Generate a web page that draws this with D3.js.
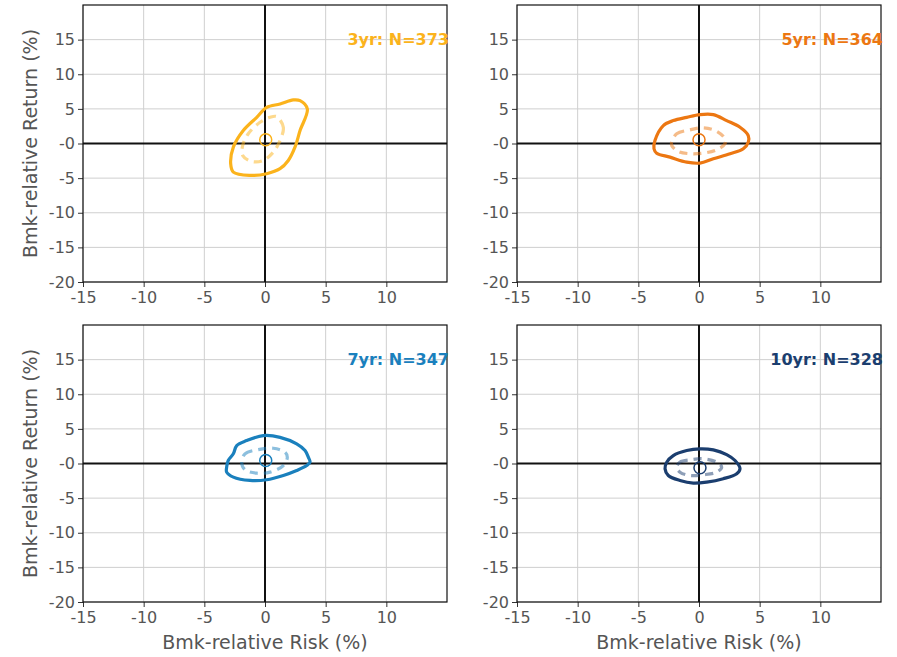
<!DOCTYPE html>
<html>
<head>
<meta charset="utf-8">
<script src="https://cdn.jsdelivr.net/npm/d3@7"></script>
<style>
  body { margin: 0; background: #fff; }
  svg { display: block; font-family: "DejaVu Sans", sans-serif; }
</style>
</head>
<body>
<svg id="chart" width="897" height="657"></svg>
<script>
// Holding periods shown, one panel each
const periods = ["3yr", "5yr", "7yr", "10yr"];
const counts = [373, 364, 347, 328];
const colors = ["#fbb31c", "#ec7712", "#1a80bd", "#1b3e6f"];

// Axis ticks and their labels
const xTicks = [-15, -10, -5, 0, 5, 10];
const xTickLabels = ["-15", "-10", "-5", "0", "5", "10"];
const yTicks = [-20, -15, -10, -5, 0, 5, 10, 15];
const yTickLabels = ["-20", "-15", "-10", "-5", "-0", "5", "10", "15"];

// Median point of each period (risk, return)
const centers = [[0.06, 0.53], [0.0, 0.53], [0.06, 0.43], [0.08, -0.62]];

// Outer density contour (solid), [risk, return]
const outer3 = [[2.89, 6.19], [3.49, 4.99], [2.89, 1.87], [2.47, -0.53], [1.92, -2.45], [1.24, -3.64], [0.14, -4.36], [-1.24, -4.60], [-2.61, -4.13], [-2.83, -2.92], [-2.61, -0.53], [-1.79, 1.87], [-0.68, 3.78], [0.14, 5.22], [1.24, 5.71], [2.33, 6.29]];
const outer5 = [[-3.63, 0.43], [-2.94, 2.59], [-2.12, 3.31], [-1.01, 3.78], [0.08, 4.17], [1.18, 4.17], [2.28, 3.31], [3.38, 2.35], [4.06, 1.15], [4.06, 0.19], [3.65, -0.76], [2.56, -1.48], [1.18, -2.20], [0.08, -2.83], [-1.01, -2.69], [-2.39, -1.97], [-3.49, -1.40], [-3.71, -0.76]];
const outer7 = [[-3.16, -0.53], [-3.03, 0.43], [-2.61, 1.40], [-2.33, 2.59], [-1.51, 3.31], [-0.14, 4.03], [1.24, 3.78], [2.61, 2.83], [3.30, 1.87], [3.57, 0.91], [3.71, 0.19], [3.44, -0.29], [2.61, -1.01], [1.51, -1.73], [0.14, -2.35], [-1.24, -2.45], [-2.61, -1.97], [-3.16, -1.25]];
const outer10 = [[-2.80, -0.76], [-2.66, 0.19], [-2.12, 1.15], [-1.01, 1.87], [0.08, 2.12], [1.18, 1.97], [2.28, 1.29], [2.97, 0.43], [3.38, -0.76], [3.11, -1.48], [2.0, -2.20], [0.63, -2.69], [-0.47, -2.83], [-1.57, -2.45], [-2.53, -1.73]];

// Inner density contour (dashed)
const inner3 = [[0.96, 3.88], [1.51, 2.35], [1.24, 0.43], [0.68, -1.25], [-0.14, -2.45], [-1.10, -2.59], [-1.84, -1.73], [-1.84, -0.29], [-1.38, 1.40], [-0.41, 3.06], [0.41, 3.78]];
const inner5 = [[-2.25, 0.19], [-1.84, 1.40], [-0.74, 1.97], [0.35, 2.26], [1.46, 1.77], [2.14, 0.68], [2.14, -0.04], [1.46, -0.91], [0.35, -1.40], [-0.74, -1.48], [-1.71, -1.15], [-2.25, -0.29]];
const inner7 = [[-1.92, 0.19], [-1.65, 1.40], [-0.55, 2.01], [0.68, 2.20], [1.65, 1.63], [1.84, 0.91], [1.51, -0.29], [0.41, -1.25], [-0.68, -1.40], [-1.65, -0.91]];
const inner10 = [[-1.84, -0.53], [-1.57, 0.19], [-0.74, 0.53], [0.35, 0.68], [1.46, 0.19], [1.87, -0.53], [1.46, -1.25], [0.35, -1.63], [-0.74, -1.73], [-1.57, -1.25]];

const outers = [outer3, outer5, outer7, outer10];
const inners = [inner3, inner5, inner7, inner10];

const svg = d3.select("#chart");
const panelW = 364, panelH = 277;
const lefts = [83, 517];
const tops = [5, 325];

const x = d3.scaleLinear().domain([-15, 15]).range([0, panelW]);
const y = d3.scaleLinear().domain([-20, 20]).range([panelH, 0]);
const line = d3.line().x(d => x(d[0])).y(d => y(d[1])).curve(d3.curveCatmullRomClosed.alpha(0.5));

periods.forEach((p, i) => {
  const col = i % 2, row = Math.floor(i / 2);
  const g = svg.append("g").attr("transform", `translate(${lefts[col]},${tops[row]})`);

  // grid
  g.append("g").selectAll("line").data(xTicks).join("line")
    .attr("x1", d => x(d)).attr("x2", d => x(d)).attr("y1", 0).attr("y2", panelH)
    .attr("stroke", "#cfcfcf").attr("stroke-width", 1);
  g.append("g").selectAll("line").data(yTicks).join("line")
    .attr("x1", 0).attr("x2", panelW).attr("y1", d => y(d)).attr("y2", d => y(d))
    .attr("stroke", "#cfcfcf").attr("stroke-width", 1);

  // zero lines
  g.append("line").attr("x1", x(0)).attr("x2", x(0)).attr("y1", 0).attr("y2", panelH)
    .attr("stroke", "#111").attr("stroke-width", 2);
  g.append("line").attr("x1", 0).attr("x2", panelW).attr("y1", y(0)).attr("y2", y(0))
    .attr("stroke", "#111").attr("stroke-width", 2);

  // axes
  const xa = g.append("g").attr("transform", `translate(0,${panelH})`)
    .call(d3.axisBottom(x).tickValues(xTicks).tickFormat((d, k) => xTickLabels[k]).tickSize(5).tickSizeOuter(0));
  const ya = g.append("g")
    .call(d3.axisLeft(y).tickValues(yTicks).tickFormat((d, k) => yTickLabels[k]).tickSize(5).tickSizeOuter(0));
  [xa, ya].forEach(a => {
    a.select(".domain").remove();
    a.selectAll(".tick line").attr("stroke", "#333");
    a.selectAll("text").attr("fill", "#555").style("font-size", "16px")
      .style("font-family", "DejaVu Sans, sans-serif");
  });
  xa.selectAll("text").attr("y", 8).attr("dy", "0.8em");
  ya.selectAll("text").attr("x", -8);

  // frame
  g.append("rect").attr("width", panelW).attr("height", panelH)
    .attr("fill", "none").attr("stroke", "#111").attr("stroke-width", 1.2);

  // contours
  g.append("path").attr("d", line(inners[i])).attr("fill", "none")
    .attr("stroke", colors[i]).attr("stroke-opacity", 0.5).attr("stroke-width", 3.2)
    .attr("stroke-dasharray", "8,6");
  g.append("path").attr("d", line(outers[i])).attr("fill", "none")
    .attr("stroke", colors[i]).attr("stroke-width", 3.2);

  // median marker
  g.append("circle").attr("cx", x(centers[i][0])).attr("cy", y(centers[i][1])).attr("r", 6)
    .attr("fill", "none").attr("stroke", colors[i]).attr("stroke-width", 1.5);

  // period label
  g.append("text").attr("x", panelW + 2).attr("y", 34).attr("dy", "0.35em")
    .attr("text-anchor", "end").attr("fill", colors[i])
    .style("font-size", "16px").style("font-weight", "bold")
    .text(`${p}: N=${counts[i]}`);

  if (col === 0) {
    g.append("text").attr("transform", `translate(-53,${panelH / 2}) rotate(-90)`)
      .attr("text-anchor", "middle").attr("dy", "0.35em").attr("fill", "#555").style("font-size", "19px")
      .text("Bmk-relative Return (%)");
  }
  if (row === 1) {
    g.append("text").attr("x", panelW / 2).attr("y", panelH + 47)
      .attr("text-anchor", "middle").attr("fill", "#555").style("font-size", "19px")
      .text("Bmk-relative Risk (%)");
  }
});
</script>
</body>
</html>
